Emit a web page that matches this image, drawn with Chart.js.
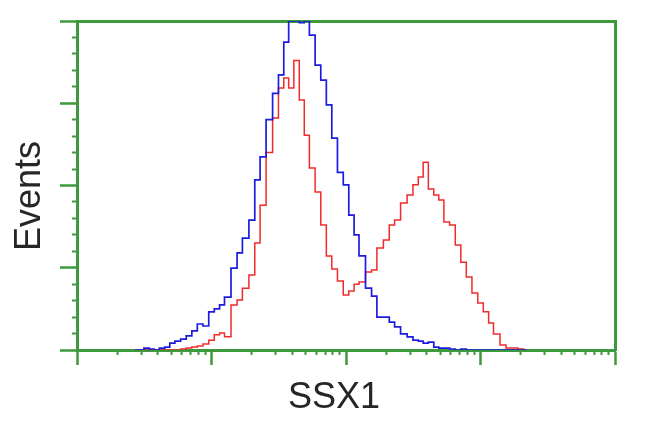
<!DOCTYPE html>
<html>
<head>
<meta charset="utf-8">
<script src="https://cdn.jsdelivr.net/npm/chart.js@4/dist/chart.umd.min.js"></script>
<style>
  html, body { margin: 0; padding: 0; background: #fff; }
</style>
</head>
<body>
<canvas id="myChart" width="650" height="432"></canvas>
<script>
// fluorescence bins (log scale)
const bins = [
  2.7, 3, 3.3, 3.6, 3.9, 4.3, 4.7, 5.1, 5.6, 6.2, 6.8, 7.5, 8.2, 9.1,
  10, 11, 12, 13, 15, 16, 18, 20, 22, 24, 27, 30, 33, 36, 39, 43, 47, 51, 56, 62, 68, 75, 82, 91,
  100, 110, 120, 130, 150, 160, 180, 200, 220, 240, 270, 300, 330, 360, 390, 430, 470, 510, 560, 620, 680, 750, 820, 910,
  1000, 1100, 1200, 1300, 1500, 1600, 1800, 2000, 2200,
]

// % of max events
const blueCounts = [
  0, 0, 0.6, 0.3, 0, 0.6, 0.9, 2.1, 2.7, 3.3, 4.3, 5.8, 7.9, 7.3,
  11.6, 12.5, 13.7, 16.1, 24.9, 29.5, 34, 39.5, 51.7, 58.7, 70, 78, 83.6, 93.6, 100, 100, 99.5, 100, 95.7, 86.6, 82, 74.5, 64.4, 54,
  50.2, 41, 35, 28.6, 18.8, 16.4, 10, 10, 8.5, 7, 4.9, 4, 3, 2.7, 2.1, 2.4, 0.9, 0.6, 0.6, 0.3, 0, 0.3, 0, 0,
  0, 0, 0, 0, 0, 0, 0, 0, 0,
]

const redCounts = [
  0, 0, 0, 0, 0, 0, 0, 0, 0, 0.3, 0.6, 0.9, 1.2, 1.8,
  3, 4.6, 5.2, 4, 13.7, 15.2, 18.8, 22.8, 32.5, 44, 60, 70.5, 79.6, 82.7, 79.6, 88, 76, 65.3, 55.3, 48, 38, 28.6, 24.6, 21,
  16.7, 17.9, 20, 20.7, 23.7, 24.3, 31, 33.4, 38, 39.5, 44.7, 47.1, 50.2, 52.6, 57.1, 48.9, 47.1, 45.6, 38.9, 38, 31.9, 26.7, 22.2, 17.3,
  14.3, 11.6, 8.2, 4.9, 1.5, 0.6, 0.6, 0.3, 0,
]

const xMajorTicks = [1, 10, 100, 1000, 10000]
const xMinorSteps = [2, 3, 4, 5, 6, 7, 8, 9]
const yMajorTicks = [0, 25, 50, 75, 100]
const yMinorTicks = [5, 10, 15, 20, 30, 35, 40, 45, 55, 60, 65, 70, 80, 85, 90, 95]

const GREEN = '#3c9a3c'
const TEXT = '#262626'

const xMinorTicks = []
xMajorTicks.slice(0, -1).forEach(function (d) {
  xMinorSteps.forEach(function (k) { xMinorTicks.push(k * d) })
})

function toPoints(values) {
  return bins.map(function (b, i) { return { x: b, y: values[i] } })
}

function setTicks(list) {
  return function (scale) {
    scale.ticks = list.map(function (v) { return { value: v } })
  }
}

// axis titles placed like the original (not centred on the axes)
const axisTitles = {
  id: 'axisTitles',
  afterDraw: function (chart) {
    const ctx = chart.ctx
    ctx.save()
    ctx.font = '36px "Liberation Sans", Arial, sans-serif'
    ctx.fillStyle = TEXT
    ctx.textAlign = 'center'
    ctx.textBaseline = 'alphabetic'
    ctx.fillText('SSX1', 334, 408)
    ctx.translate(40, 196)
    ctx.rotate(-Math.PI / 2)
    ctx.fillText('Events', 0, 0)
    ctx.restore()
  },
}

var ctx = document.getElementById('myChart').getContext('2d')
var myChart = new Chart(ctx, {
  type: 'line',
  data: {
    datasets: [
      {
        label: 'control',
        data: toPoints(blueCounts),
        borderColor: '#1c1ce0',
        borderWidth: 1.7,
        pointRadius: 0,
        stepped: 'middle',
        xAxisID: 'x',
        yAxisID: 'y',
      },
      {
        label: 'SSX1',
        data: toPoints(redCounts),
        borderColor: '#f02a2a',
        borderWidth: 1.5,
        pointRadius: 0,
        stepped: 'middle',
        xAxisID: 'x',
        yAxisID: 'y',
      },
    ],
  },
  options: {
    responsive: false,
    animation: false,
    layout: { padding: { top: 21, right: 35, bottom: 0, left: 0 } },
    plugins: {
      legend: { display: false },
      tooltip: { enabled: false },
    },
    scales: {
      x: {
        type: 'logarithmic',
        position: 'bottom',
        min: 1,
        max: 10000,
        weight: 1,
        z: 1,
        afterBuildTicks: setTicks(xMajorTicks),
        afterFit: function (s) { s.height = 82 },
        ticks: { display: false },
        grid: { drawOnChartArea: false, tickLength: 15, tickWidth: 2.5, tickColor: GREEN, color: GREEN },
        border: { color: GREEN, width: 3 },
      },
      xMinor: {
        type: 'logarithmic',
        position: 'bottom',
        min: 1,
        max: 10000,
        weight: 0,
        afterBuildTicks: setTicks(xMinorTicks),
        afterFit: function (s) { s.height = 0 },
        ticks: { display: false },
        grid: { drawOnChartArea: false, tickLength: 5, tickWidth: 2, tickColor: GREEN, color: GREEN },
        border: { display: false },
      },
      xTop: {
        type: 'linear',
        position: 'top',
        min: 0,
        max: 1,
        z: 1,
        afterFit: function (s) { s.height = 0 },
        ticks: { display: false },
        grid: { drawOnChartArea: false, drawTicks: false },
        border: { color: GREEN, width: 3 },
      },
      y: {
        type: 'linear',
        position: 'left',
        min: 0,
        max: 100,
        weight: 1,
        z: 1,
        afterBuildTicks: setTicks(yMajorTicks),
        afterFit: function (s) { s.width = 77 },
        ticks: { display: false },
        grid: { drawOnChartArea: false, tickLength: 17, tickWidth: 2.5, tickColor: GREEN, color: GREEN },
        border: { color: GREEN, width: 3 },
      },
      yMinor: {
        type: 'linear',
        position: 'left',
        min: 0,
        max: 100,
        weight: 0,
        afterBuildTicks: setTicks(yMinorTicks),
        afterFit: function (s) { s.width = 0 },
        ticks: { display: false },
        grid: { drawOnChartArea: false, tickLength: 5, tickWidth: 2, tickColor: GREEN, color: GREEN },
        border: { display: false },
      },
      yRight: {
        type: 'linear',
        position: 'right',
        min: 0,
        max: 1,
        z: 1,
        afterFit: function (s) { s.width = 0 },
        ticks: { display: false },
        grid: { drawOnChartArea: false, drawTicks: false },
        border: { color: GREEN, width: 3 },
      },
    },
  },
  plugins: [axisTitles],
})
</script>
</body>
</html>
